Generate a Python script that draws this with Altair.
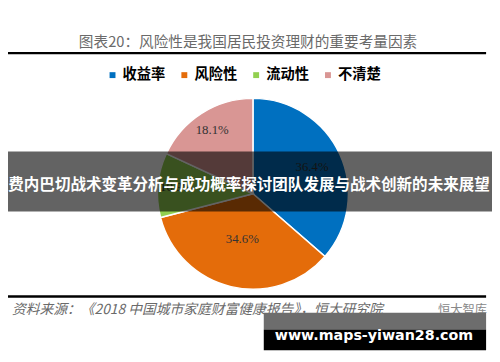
import altair as alt
import pandas as pd
import math

categories = ["收益率", "风险性", "流动性", "不清楚"]
shares = [36.4, 34.6, 10.9, 18.1]
label_text = ["36.4%", "34.6%", "10.9%", "18.1%"]
colors = ["#0070C0", "#E46C0A", "#92D050", "#D99694"]

title_text = "图表20：风险性是我国居民投资理财的重要考量因素"
source_text = "资料来源：《2018 中国城市家庭财富健康报告》，恒大研究院"
logo_text = "恒大智库"
banner_text = "费内巴切战术变革分析与成功概率探讨团队发展与战术创新的未来展望"
watermark_text = "www.maps-yiwan28.com"

df = pd.DataFrame({"cat": categories, "share": shares, "label": label_text,
                   "idx": list(range(len(categories)))})

W, H = 492, 346
CX, CY, R = 249, 186, 97
CJK = "Noto Sans CJK SC"

base = alt.Chart(df)

color = alt.Color(
    "cat:N",
    scale=alt.Scale(domain=categories, range=colors),
    sort=categories,
    legend=alt.Legend(
        title=None, orient="none", legendX=99, legendY=58,
        direction="horizontal", symbolType="square", symbolSize=36,
        symbolStrokeWidth=0, labelFont=CJK, labelFontSize=14.5,
        labelFontWeight="bold", labelColor="black", columnPadding=12,
        labelOffset=3, padding=0,
    ),
)

pie = base.mark_arc(outerRadius=R, stroke="white", strokeWidth=1.5).encode(
    theta=alt.Theta("share:Q", stack=True),
    color=color,
    order=alt.Order("idx:Q"),
    x=alt.value(CX), y=alt.value(CY),
)

labels = base.transform_window(
    cum="sum(share)", sort=[alt.SortField("idx")]
).transform_joinaggregate(
    total="sum(share)"
).transform_calculate(
    mid="(datum.cum - datum.share / 2) / datum.total",
    lr="[66, 47, 78, 77][datum.idx]",
).mark_text(font="Liberation Serif", fontSize=13, color="#333333").encode(
    theta=alt.Theta("mid:Q", stack=None,
                    scale=alt.Scale(domain=[0, 1], range=[0, 2 * math.pi])),
    radius=alt.Radius("lr:Q", scale=None),
    text="label:N",
    x=alt.value(CX), y=alt.value(CY),
)

one = alt.Chart(pd.DataFrame({"a": [0]}))

title = one.mark_text(font=CJK, fontSize=14.9, color="#6a6a6a", baseline="middle").encode(
    x=alt.value(244), y=alt.value(32.5), text=alt.value(title_text))

top_rule = one.mark_rule(color="black", strokeWidth=2.5).encode(
    x=alt.value(0), x2=alt.value(486), y=alt.value(43))
bottom_rule = one.mark_rule(color="black", strokeWidth=2.5).encode(
    x=alt.value(0), x2=alt.value(486), y=alt.value(290.5))

source = one.mark_text(font=CJK, fontSize=14, fontStyle="italic", color="#6a6a6a",
                       align="left", baseline="middle").encode(
    x=alt.value(4), y=alt.value(304), text=alt.value(source_text))
logo = one.mark_text(font=CJK, fontSize=12.5, color="#888888",
                     align="left", baseline="middle").encode(
    x=alt.value(437), y=alt.value(304), text=alt.value(logo_text))

banner = one.mark_rect(color="black", opacity=0.61).encode(
    x=alt.value(0), x2=alt.value(W), y=alt.value(143), y2=alt.value(204))
banner_label = one.mark_text(font=CJK, fontSize=15.8, fontWeight="bold", color="white",
                             baseline="middle").encode(
    x=alt.value(245), y=alt.value(177), text=alt.value(banner_text))

wm_gray = one.mark_rect(color="#6d6d6d").encode(
    x=alt.value(260), x2=alt.value(486), y=alt.value(307), y2=alt.value(324))
wm_black = one.mark_rect(color="black").encode(
    x=alt.value(260), x2=alt.value(486), y=alt.value(324), y2=alt.value(345))
wm_text = one.mark_text(font="DejaVu Sans", fontSize=14.5, fontWeight="bold", color="white",
                        baseline="alphabetic").encode(
    x=alt.value(372), y=alt.value(334.5), text=alt.value(watermark_text))

chart = alt.layer(
    pie, labels, title, top_rule, bottom_rule, source, logo,
    banner, banner_label, wm_gray, wm_black, wm_text,
).resolve_scale(
    theta="independent", radius="independent",
).properties(
    width=W, height=H, autosize=alt.AutoSizeParams(type="none"), padding=0,
).configure_view(stroke=None)

chart.save("out.html", embed_options={"renderer": "svg", "actions": False})
